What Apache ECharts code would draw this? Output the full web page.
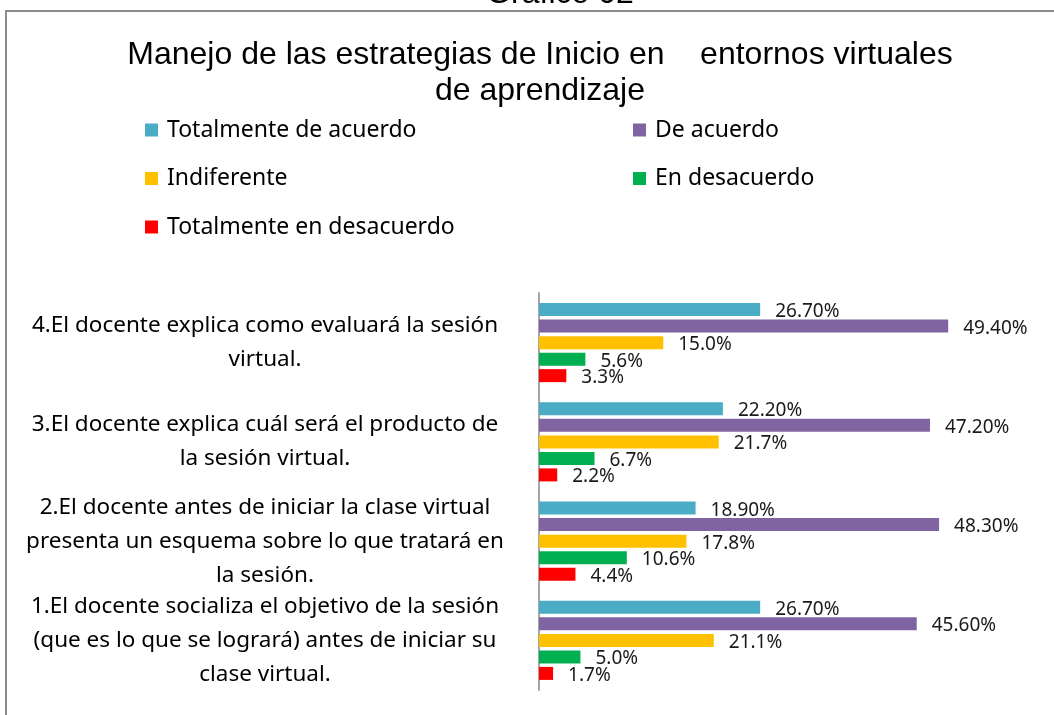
<!DOCTYPE html>
<html>
<head>
<meta charset="utf-8">
<script src="https://cdn.jsdelivr.net/npm/echarts@6/dist/echarts.min.js"></script>
<style>
  html, body { margin: 0; padding: 0; background: #fff; }
  #chart { width: 1054px; height: 715px; }
</style>
</head>
<body>
<div id="chart"></div>
<script>
// categories from bottom to top (category axis starts at the bottom)
const categories = [
  '1.El docente socializa el objetivo de la sesión\n(que es lo que se logrará) antes de iniciar su\nclase virtual.',
  '2.El docente antes de iniciar la clase virtual\npresenta un esquema sobre lo que tratará en\nla sesión.',
  '3.El docente explica cuál será el producto de\nla sesión virtual.',
  '4.El docente explica como evaluará la sesión\nvirtual.'
]
const seriesNames = ['Totalmente de acuerdo', 'De acuerdo', 'Indiferente', 'En desacuerdo', 'Totalmente en desacuerdo']
const totalmenteDeAcuerdo = [26.7, 18.9, 22.2, 26.7]
const deAcuerdo = [45.6, 48.3, 47.2, 49.4]
const indiferente = [21.1, 17.8, 21.7, 15.0]
const enDesacuerdo = [5.0, 10.6, 6.7, 5.6]
const totalmenteEnDesacuerdo = [1.7, 4.4, 2.2, 3.3]
const labelDecimals = [2, 2, 1, 1, 1]
const colors = ['#4BACC6', '#8064A2', '#FFC000', '#00B050', '#FF0000']

const values = [totalmenteDeAcuerdo, deAcuerdo, indiferente, enDesacuerdo, totalmenteEnDesacuerdo]

const chart = echarts.init(document.getElementById('chart'))

const series = seriesNames.map((name, i) => ({
  name: name,
  type: 'bar',
  data: values[i],
  barWidth: 13,
  barGap: '27%',
  itemStyle: { color: colors[i] },
  label: {
    show: true,
    position: 'right',
    distance: 15,
    offset: [0, 2],
    color: '#1a1a1a',
    fontFamily: 'Noto Sans',
    fontSize: 19,
    formatter: (p) => p.value.toFixed(labelDecimals[i]) + '%'
  }
}))

const legendText = {
  fontFamily: 'Noto Sans',
  fontSize: 23,
  color: '#000',
  lineHeight: 28,
  padding: [0, 0, 0, 4]
}

const option = {
  animation: false,
  color: colors,
  title: [
    {
      text: 'Gráfico 02',
      left: 555,
      textAlign: 'center',
      top: -27,
      textStyle: { fontFamily: 'Liberation Sans', fontSize: 32, fontWeight: 'normal', color: '#000' }
    },
    {
      text: 'Manejo de las estrategias de Inicio en    entornos virtuales\nde aprendizaje',
      left: 535,
      textAlign: 'center',
      top: 32,
      textStyle: { fontFamily: 'Liberation Sans', fontSize: 32, fontWeight: 'normal', color: '#000', lineHeight: 36 }
    }
  ],
  legend: [
    {
      data: [seriesNames[0], seriesNames[2], seriesNames[4]],
      orient: 'vertical',
      left: 140,
      top: 111,
      itemGap: 20.5,
      itemWidth: 13,
      itemHeight: 13,
      icon: 'rect',
      selectedMode: false,
      textStyle: legendText
    },
    {
      data: [seriesNames[1], seriesNames[3]],
      orient: 'vertical',
      left: 628,
      top: 111,
      itemGap: 20.5,
      itemWidth: 13,
      itemHeight: 13,
      icon: 'rect',
      selectedMode: false,
      textStyle: legendText
    }
  ],
  graphic: [
    {
      type: 'rect',
      shape: { x: 6, y: 11, width: 1200, height: 900 },
      style: { fill: 'none', stroke: '#8c8c8c', lineWidth: 2 },
      silent: true
    }
  ],
  grid: {
    left: 539,
    top: 293,
    height: 397,
    right: 18,
    containLabel: false
  },
  xAxis: {
    type: 'value',
    min: 0,
    max: 60,
    show: false
  },
  yAxis: {
    type: 'category',
    data: categories,
    axisLine: { show: true, lineStyle: { color: '#a6a6a6', width: 2 } },
    axisTick: { show: false },
    axisLabel: {
      interval: 0,
      hideOverlap: false,
      align: 'center',
      margin: 274,
      fontFamily: 'Noto Sans',
      fontSize: 22.5,
      lineHeight: 34,
      color: '#000'
    }
  },
  series: series
}

chart.setOption(option)
</script>
</body>
</html>
